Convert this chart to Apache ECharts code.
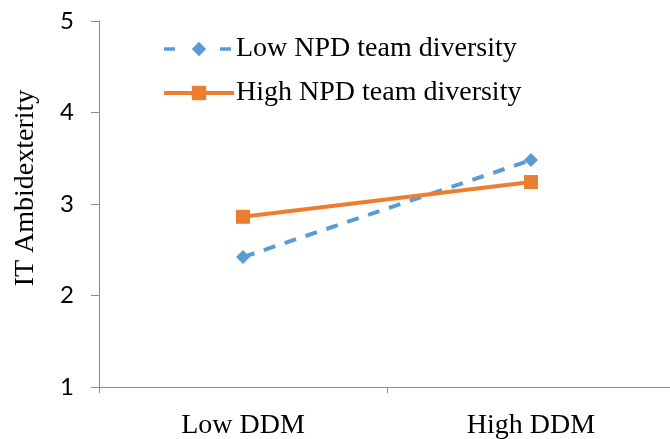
<!DOCTYPE html>
<html>
<head>
<meta charset="utf-8">
<script src="https://cdn.jsdelivr.net/npm/echarts@6/dist/echarts.min.js"></script>
<style>
  html, body { margin: 0; padding: 0; background: #fff; }
  #main { width: 670px; height: 439px; }
</style>
</head>
<body>
<div id="main"></div>
<script>
var categories = ['Low DDM', 'High DDM'];
var lowDiversity = [2.42, 3.48];
var highDiversity = [2.86, 3.24];
var yTicks = { min: 1, max: 5, step: 1 };

var chart = echarts.init(document.getElementById('main'));
var serif = '"Liberation Serif", "Times New Roman", serif';
var axisGray = '#8c8c8c';

chart.setOption({
    animation: false,
    grid: { left: 99, top: 21, width: 576, bottom: 52, outerBoundsMode: 'none', containLabel: false },
    legend: {
        orient: 'vertical',
        left: 157,
        top: 30,
        itemWidth: 70,
        itemHeight: 18,
        itemGap: 16,
        textStyle: { fontFamily: serif, fontSize: 28, color: '#000', padding: [0, 0, 0, -3] },
        data: [
            { name: 'Low NPD team diversity', lineStyle: { type: [11, 45], width: 3.5 } },
            { name: 'High NPD team diversity', lineStyle: { width: 4 } }
        ]
    },
    xAxis: {
        type: 'category',
        data: categories,
        boundaryGap: true,
        axisLine: { lineStyle: { color: axisGray, width: 1 } },
        axisTick: { show: true, length: 6, lineStyle: { color: axisGray } },
        axisLabel: { fontFamily: serif, fontSize: 28, color: '#000', margin: 25 }
    },
    yAxis: {
        type: 'value',
        min: yTicks.min,
        max: yTicks.max,
        interval: yTicks.step,
        name: 'IT Ambidexterity',
        nameLocation: 'middle',
        nameGap: 59,
        nameTextStyle: { fontFamily: serif, fontSize: 28, color: '#000', padding: [0, 0, 0, 32] },
        axisLine: { show: true, lineStyle: { color: axisGray, width: 1 } },
        axisTick: { show: true, length: 8, lineStyle: { color: axisGray } },
        splitLine: { show: false },
        axisLabel: { fontFamily: 'Lato, "Open Sans", sans-serif', fontSize: 24, color: '#000', margin: 25 }
    },
    series: [
        {
            name: 'Low NPD team diversity',
            type: 'line',
            data: lowDiversity,
            symbol: 'diamond',
            symbolSize: 14,
            itemStyle: { color: '#5b9bd5' },
            lineStyle: { color: '#5b9bd5', width: 4, type: [12, 10] }
        },
        {
            name: 'High NPD team diversity',
            type: 'line',
            data: highDiversity,
            symbol: 'rect',
            symbolSize: 14,
            itemStyle: { color: '#ed7d31' },
            lineStyle: { color: '#ed7d31', width: 4 }
        }
    ]
});
</script>
</body>
</html>
